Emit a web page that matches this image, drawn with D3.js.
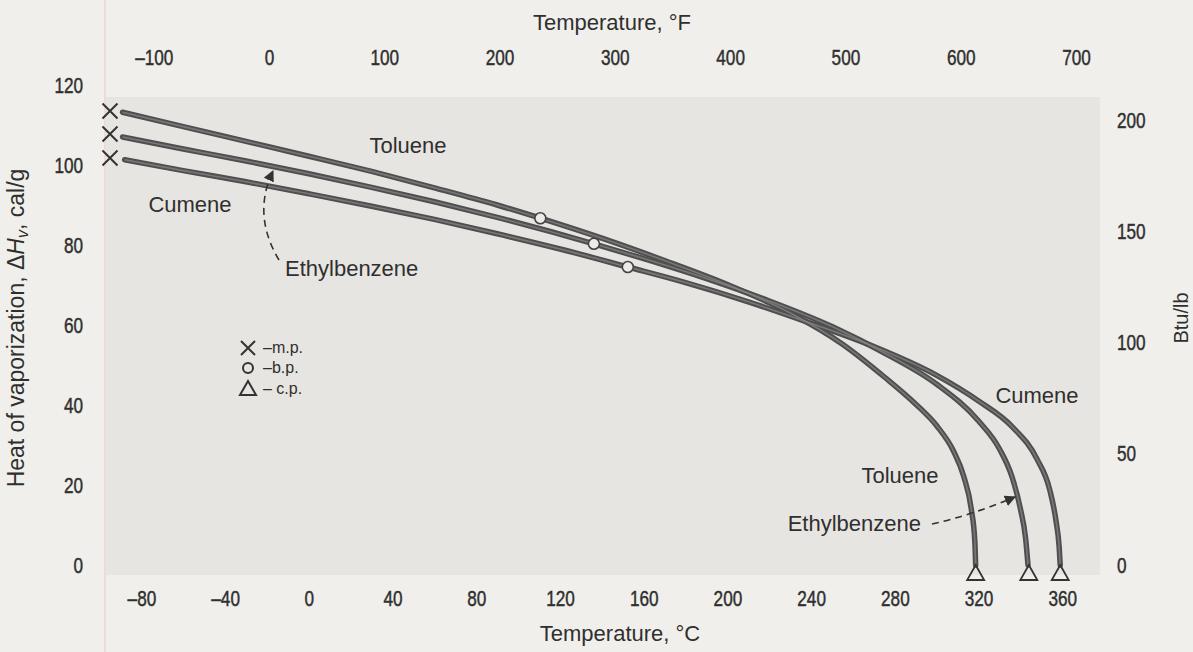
<!DOCTYPE html>
<html><head><meta charset="utf-8">
<script src="https://cdn.jsdelivr.net/npm/d3@7"></script>
<style>
html,body{margin:0;padding:0;background:#efeeea;}
svg{display:block}
</style></head><body>
<svg id="chart" width="1193" height="652"></svg>
<script>
// ---- data ----
const celsiusTicks = [-80,-40,0,40,80,120,160,200,240,280,320,360];
const fahrenheitTicks = [-100,0,100,200,300,400,500,600,700];
const calTicks = [0,20,40,60,80,100,120];
const btuTicks = [0,50,100,150,200];

// [temperature °C, heat of vaporization cal/g]
const toluene = [[-89,113.2],[-60,109.6],[-30,105.9],[0,102.2],[30,98.4],[60,94.3],[90,90.0],[110.6,86.7],[140,81.7],[170,76.1],[200,70.1],[230,63.0],[255,55.2],[275,47.0],[290,40.2],[300,34.8],[308,28.5],[313,22.0],[316.5,14.0],[318.2,6.0],[318.6,0]];
const ethylbenzene = [[-89,107.0],[-60,104.0],[-30,101.0],[0,97.8],[30,94.4],[60,90.8],[90,86.9],[136.2,80.3],[160,76.6],[190,71.6],[220,66.0],[250,59.6],[275,53.0],[300,45.2],[320,36.0],[330,29.0],[336,22.0],[340,14.0],[342.5,6.5],[343.6,0]];
const cumene = [[-88,101.3],[-60,98.6],[-30,95.8],[0,92.8],[30,89.7],[60,86.4],[90,82.8],[120,79.0],[152.4,74.5],[180,70.6],[210,65.8],[240,60.4],[270,54.6],[300,47.4],[320,41.0],[336,34.6],[348,26.4],[354,18.8],[357,11.0],[358.5,4.5],[359,0]];

const meltingPoints = [[-95,113.5],[-95,107.75],[-95,101.75]];
const boilingPoints = [[110.6,86.7],[136.2,80.3],[152.4,74.5]];
const criticalPoints = [[318.6,0],[344.0,0],[359.0,0]];

// ---- scales ----
const svg = d3.select("#chart");
const x = d3.scaleLinear().domain([-80,360]).range([141.4,1062.3]);
const xF = d3.scaleLinear().domain([0,700]).range([269,1076]);
const y = d3.scaleLinear().domain([0,120]).range([565,85]);
const yB = d3.scaleLinear().domain([0,216]).range([565,85]);

const ink = "#2f2f2f";
const txtFont = "'Liberation Sans',Arial,Helvetica,sans-serif";

// paper
svg.append("rect").attr("x",0).attr("y",0).attr("width",1193).attr("height",652).attr("fill","#f0efeb");
svg.append("rect").attr("x",105).attr("y",97).attr("width",995).attr("height",478).attr("fill","#e7e5e1");
svg.append("line").attr("x1",105).attr("x2",105).attr("y1",0).attr("y2",652).attr("stroke","#ecdcd5").attr("stroke-width",2);

const fmt = d => d < 0 ? "\u2013" + Math.abs(d) : String(d);

function styleAxis(g){
  g.select(".domain").remove();
  g.selectAll("text").attr("font-family",txtFont).attr("font-size",22).attr("fill",ink)
    .attr("stroke",ink).attr("stroke-width",0.45)
    .attr("transform","scale(0.78,1)");
}
svg.append("g").attr("transform","translate(0,590)")
  .call(d3.axisBottom(x).tickValues(celsiusTicks).tickSize(0).tickPadding(0).tickFormat(fmt)).call(styleAxis);
svg.append("g").attr("transform","translate(0,65)")
  .call(d3.axisTop(xF).tickValues(fahrenheitTicks).tickSize(0).tickPadding(0).tickFormat(fmt)).call(styleAxis);
svg.append("g").attr("transform","translate(83,0)")
  .call(d3.axisLeft(y).tickValues(calTicks).tickSize(0).tickPadding(0)).call(styleAxis);
svg.append("g").attr("transform","translate(1117,0)")
  .call(d3.axisRight(yB).tickValues(btuTicks).tickSize(0).tickPadding(0)).call(styleAxis);

// axis titles
svg.append("text").attr("x",612).attr("y",30).attr("text-anchor","middle")
  .attr("font-family",txtFont).attr("font-size",22).attr("fill",ink).text("Temperature, \u00b0F");
svg.append("text").attr("x",620).attr("y",641).attr("text-anchor","middle")
  .attr("font-family",txtFont).attr("font-size",22).attr("fill",ink).text("Temperature, \u00b0C");
const yt = svg.append("text").attr("transform","translate(24,328) rotate(-90)").attr("text-anchor","middle")
  .attr("font-family",txtFont).attr("font-size",23).attr("fill",ink);
yt.append("tspan").text("Heat of vaporization, \u0394");
yt.append("tspan").attr("font-style","italic").text("H");
yt.append("tspan").attr("font-style","italic").attr("font-size",16).attr("dy",4).text("v");
yt.append("tspan").attr("dy",-4).text(", cal/g");
svg.append("text").attr("transform","translate(1188,318) rotate(-90)").attr("text-anchor","middle")
  .attr("font-family",txtFont).attr("font-size",20).attr("fill",ink).text("Btu/lb");

// curves
const line = d3.line().x(d=>x(d[0])).y(d=>y(d[1])).curve(d3.curveMonotoneX);
const series = [toluene, ethylbenzene, cumene];
const cg = svg.append("g");
series.forEach(s=>{
  cg.append("path").attr("d",line(s)).attr("fill","none").attr("stroke","#4f4f4f").attr("stroke-width",5.5).attr("stroke-linecap","round");
});
series.forEach(s=>{
  cg.append("path").attr("d",line(s)).attr("fill","none").attr("stroke","#8a8a8a").attr("stroke-width",1.6).attr("opacity",0.7);
});

// markers: melting points (X)
const mg = svg.append("g").attr("stroke","#333").attr("stroke-width",2).attr("fill","none");
meltingPoints.forEach(p=>{
  const cx = x(p[0]), cy = y(p[1]), s = 7.5;
  mg.append("path").attr("d",`M${cx-s},${cy-s}L${cx+s},${cy+s}M${cx+s},${cy-s}L${cx-s},${cy+s}`);
});
// boiling points (circles)
svg.append("g").selectAll("circle").data(boilingPoints).join("circle")
  .attr("cx",d=>x(d[0])).attr("cy",d=>y(d[1])).attr("r",5.5)
  .attr("fill","#ecebe7").attr("stroke","#444").attr("stroke-width",1.6);
// critical points (triangles)
svg.append("g").selectAll("path").data(criticalPoints).join("path")
  .attr("d",d=>{const cx=x(d[0]), top=y(d[1]); return `M${cx},${top}L${cx+8.5},${top+15}L${cx-8.5},${top+15}Z`;})
  .attr("fill","none").attr("stroke","#333").attr("stroke-width",1.8);

// legend
const lg = svg.append("g");
const lx = 248;
lg.append("path").attr("d",`M${lx-7},341L${lx+7},355M${lx+7},341L${lx-7},355`).attr("stroke","#333").attr("stroke-width",2).attr("fill","none");
lg.append("circle").attr("cx",lx).attr("cy",368).attr("r",5).attr("fill","none").attr("stroke","#333").attr("stroke-width",2);
lg.append("path").attr("d",`M${lx},381L${lx+8},395L${lx-8},395Z`).attr("fill","none").attr("stroke","#333").attr("stroke-width",2);
[["\u2013m.p.",353],["\u2013b.p.",373],["\u2013 c.p.",394]].forEach(t=>{
  lg.append("text").attr("x",263).attr("y",t[1]).attr("font-family",txtFont).attr("font-size",16).attr("fill",ink).text(t[0]);
});

// labels
function label(txt,xx,yy,anchor){
  svg.append("text").attr("x",xx).attr("y",yy).attr("text-anchor",anchor||"start")
    .attr("font-family",txtFont).attr("font-size",22).attr("fill",ink).text(txt);
}
label("Toluene",408,153,"middle");
label("Cumene",190,212,"middle");
label("Ethylbenzene",285,276,"start");
label("Cumene",1037,403,"middle");
label("Toluene",900,483,"middle");
label("Ethylbenzene",921,531,"end");

// dashed arrows
svg.append("defs").append("marker").attr("id","ah").attr("viewBox","0 0 10 10").attr("refX",9).attr("refY",5)
  .attr("markerWidth",7).attr("markerHeight",7).attr("orient","auto")
  .append("path").attr("d","M0,0L10,5L0,10Z").attr("fill","#333");
svg.append("path").attr("d","M279,260 Q252,215 273,171").attr("fill","none").attr("stroke","#333")
  .attr("stroke-width",1.6).attr("stroke-dasharray","7,5").attr("marker-end","url(#ah)");
svg.append("path").attr("d","M932,524 Q972,515 1015,497").attr("fill","none").attr("stroke","#333")
  .attr("stroke-width",1.6).attr("stroke-dasharray","7,5").attr("marker-end","url(#ah)");
</script>
</body></html>
